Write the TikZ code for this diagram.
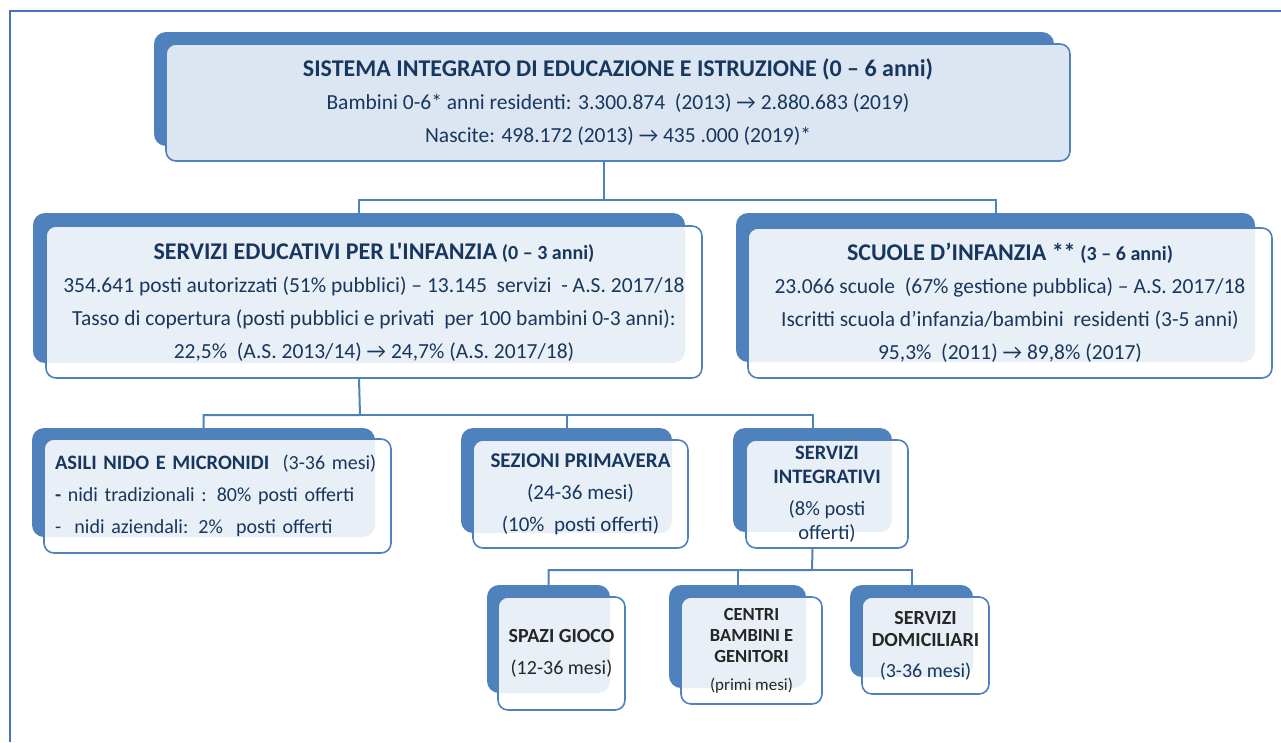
\documentclass[tikz,border=0pt]{standalone}
\usepackage{fontspec}
\setmainfont{Carlito}[Ligatures=TeXOff]
\usetikzlibrary{positioning}

\definecolor{boxblue}{HTML}{4F81BD}
\definecolor{frameblue}{HTML}{4472C4}
\definecolor{topfill}{HTML}{DCE6F2}
\definecolor{navy}{HTML}{17375E}
\definecolor{ink}{HTML}{262626}

\begin{document}
\begin{tikzpicture}[
  x=1pt, y=-1pt,
  every node/.style={font=\fontsize{21.5}{33}\selectfont, text=navy},
  back/.style={rectangle,fill=boxblue,rounded corners=12pt,inner sep=0pt},
  front/.style={rectangle,draw=boxblue,line width=1.6pt,fill=white,fill opacity=0.88,
    text opacity=1,rounded corners=10pt,inner sep=0pt,align=center},
  topbox/.style={front,fill=topfill,fill opacity=1},
  link/.style={draw=boxblue,line width=2pt},
  small/.style={font=\fontsize{20}{22}\selectfont, text=ink}
]
\useasboundingbox (0,0) rectangle (1281,742);

% FRAME
\coordinate (fbl) at (10,742);
\coordinate (ftl) at (10,11);
\coordinate (ftr) at (1281,11);
\draw[frameblue,line width=2.5pt] (fbl) -- (ftl) -- (ftr);

% SISTEMA INTEGRATO
\node[back,minimum width=900pt,minimum height=114pt] (sisB) at (604,89) {};
\node[topbox,minimum width=904pt,minimum height=117pt] (sis) at (618,102.5)
  {{\fontsize{24}{33}\selectfont\bfseries SISTEMA INTEGRATO DI EDUCAZIONE E ISTRUZIONE (0 – 6 anni)}\\
   Bambini 0-6* anni residenti: 3.300.874\ \ (2013) → 2.880.683 (2019)\\
   Nascite: 498.172 (2013) → 435 .000 (2019)*};

% SERVIZI EDUCATIVI
\node[back,minimum width=652pt,minimum height=150pt] (sedB) at (359,288) {};
\node[front,minimum width=656pt,minimum height=152pt] (sed) at (374,302)
  {{\fontsize{24}{33}\selectfont\bfseries SERVIZI EDUCATIVI PER L'INFANZIA}
   {\fontsize{20}{33}\selectfont\bfseries (0 – 3 anni)}\\
   354.641 posti autorizzati (51\% pubblici) – 13.145\ \ servizi\ \ - A.S. 2017/18\\
   Tasso di copertura (posti pubblici e privati\ \ per 100 bambini 0-3 anni):\\
   22,5\%\ \ (A.S. 2013/14) → 24,7\% (A.S. 2017/18)};

% SCUOLE D'INFANZIA
\node[back,minimum width=519pt,minimum height=149pt] (scuB) at (995.5,287.5) {};
\node[front,minimum width=524pt,minimum height=150pt] (scu) at (1010,303)
  {{\fontsize{24}{33}\selectfont\bfseries SCUOLE D’INFANZIA **}
   {\fontsize{20}{33}\selectfont\bfseries (3 – 6 anni)}\\
   23.066 scuole\ \ (67\% gestione pubblica) – A.S. 2017/18\\
   Iscritti scuola d’infanzia/bambini\ \ residenti (3-5 anni)\\
   95,3\%\ \ (2011) → 89,8\% (2017)};

\coordinate (j1) at (604,200);
\draw[link] (sisB.south |- sis.south) -- (j1) -| (sedB.north);
\draw[link] (j1) -| (scuB.north);

% ASILI NIDO
\node[back,minimum width=343pt,minimum height=109pt] (asiB) at (203.5,482.5) {};
\node[front,minimum width=347pt,minimum height=114pt,text width=325pt,inner xsep=11pt,
  align=left,font=\fontsize{20}{32}\selectfont] (asi) at (217.5,496)
  {{\fontsize{20.5}{32}\selectfont\bfseries ASILI NIDO E MICRONIDI}\ \ (3-36 mesi)\\
   {\bfseries -} nidi tradizionali : 80\% posti offerti\\
   -\ \ nidi aziendali: 2\%\ \ posti offerti};

% SEZIONI PRIMAVERA
\node[back,minimum width=211pt,minimum height=105pt] (sezB) at (566.5,480.5) {};
\node[front,minimum width=215pt,minimum height=108pt,font=\fontsize{21}{32}\selectfont]
  (sez) at (580.5,494)
  {{\bfseries SEZIONI PRIMAVERA}\\
   (24-36 mesi)\\
   (10\%\ \ posti offerti)};

% SERVIZI INTEGRATIVI
\node[back,minimum width=159pt,minimum height=104pt] (intB) at (812.5,480) {};
\node[front,minimum width=162pt,minimum height=108pt,font=\fontsize{20.5}{24}\selectfont]
  (int) at (827,494)
  {{\bfseries SERVIZI}\\
   {\bfseries INTEGRATIVI}\\[8pt]
   (8\% posti\\
   offerti)};

\coordinate (j2) at (360,415);
\draw[link] (sedB.south |- sed.south) -- (j2) -| (asiB.north);
\draw[link] (j2) -| (sezB.north);
\draw[link] (j2) -| (intB.north);

% SPAZI GIOCO
\node[back,minimum width=123pt,minimum height=108pt] (spaB) at (548.5,639) {};
\node[front,small,minimum width=127pt,minimum height=113pt,font=\fontsize{20}{32}\selectfont]
  (spa) at (561.5,653.5)
  {{\bfseries SPAZI GIOCO}\\
   (12-36 mesi)};

% CENTRI BAMBINI E GENITORI
\node[back,minimum width=137pt,minimum height=103pt] (cenB) at (737.5,636.5) {};
\node[front,small,minimum width=141pt,minimum height=107pt,font=\fontsize{18.5}{21}\selectfont]
  (cen) at (751.5,650.5)
  {{\bfseries CENTRI}\\
   {\bfseries BAMBINI E}\\
   {\bfseries GENITORI}\\[7pt]
   {\fontsize{17}{21}\selectfont (primi mesi)}};

% SERVIZI DOMICILIARI
\node[back,minimum width=123pt,minimum height=92pt] (domB) at (911.5,631) {};
\node[front,small,minimum width=127pt,minimum height=97pt] (dom) at (925.5,645.5)
  {{\bfseries SERVIZI}\\
   {\bfseries DOMICILIARI}\\[9pt]
   {\color{navy}(3-36 mesi)}};

\coordinate (j3) at (812,570);
\draw[link] (intB.south |- int.south) -- (j3) -| (spaB.north);
\draw[link] (j3) -| (cenB.north);
\draw[link] (j3) -| (domB.north);

\end{tikzpicture}
\end{document}
